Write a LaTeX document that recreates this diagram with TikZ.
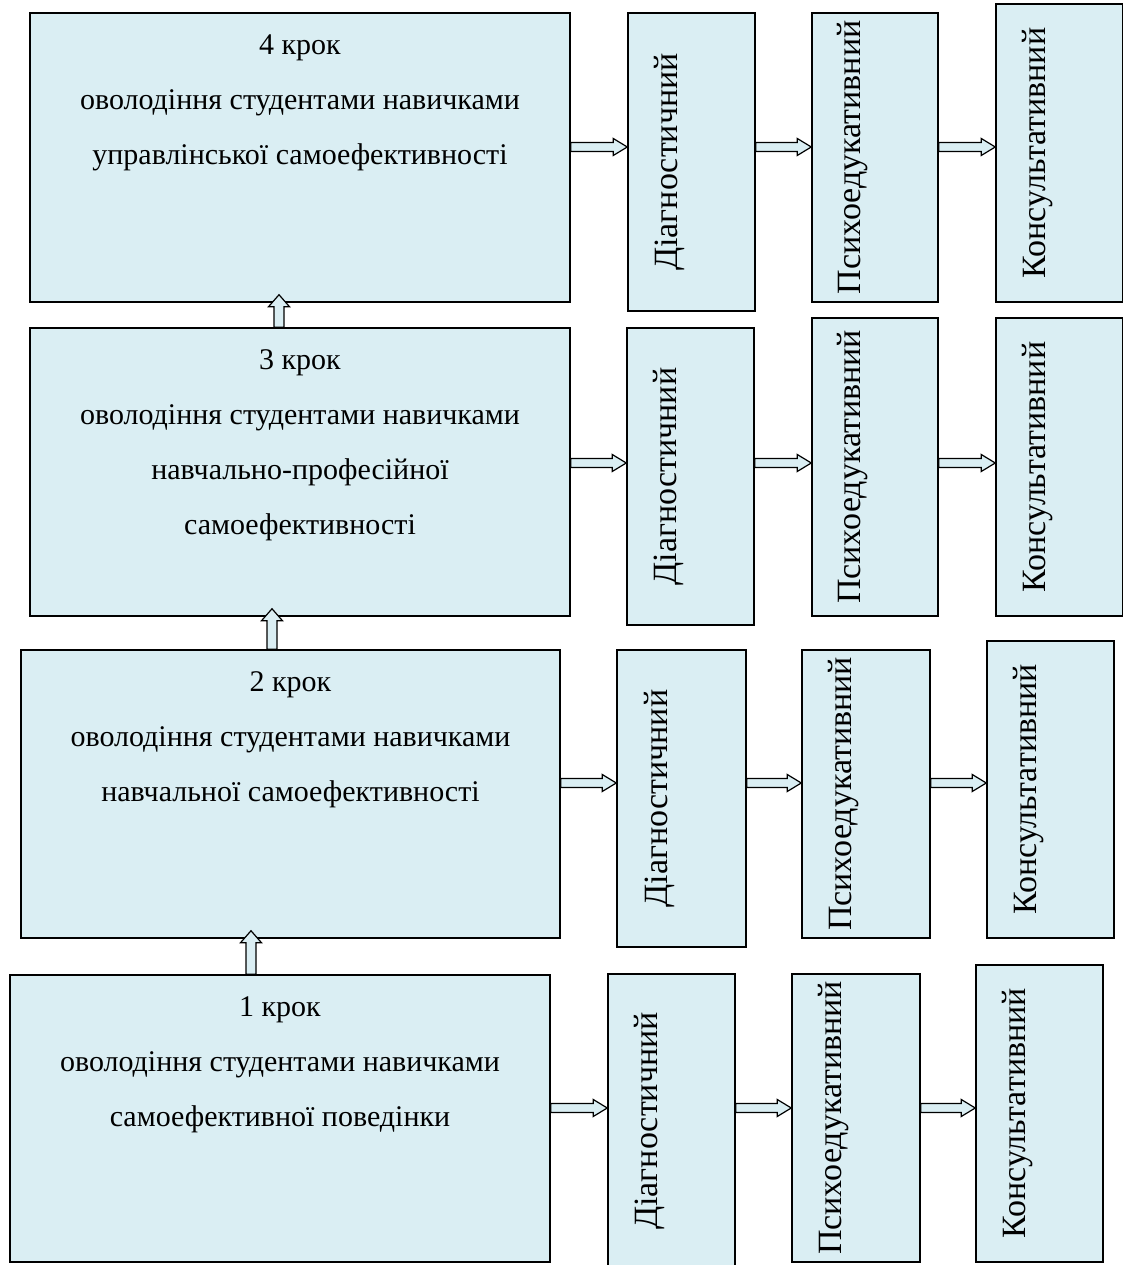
\documentclass[tikz,border=0pt]{standalone}
\usepackage{fontspec}
\setmainfont{Liberation Serif}
\usepackage{graphicx}
\usetikzlibrary{positioning,calc}
\definecolor{boxfill}{HTML}{DAEEF3}
\tikzset{
  stepbox/.style={draw=black,line width=1.5pt,fill=boxfill,inner sep=0pt},
  steptext/.style={align=center,inner sep=0pt,font=\fontsize{30}{55}\selectfont},
  formbox/.style={stepbox,minimum width=127pt,font=\fontsize{34}{40}\selectfont},
  blockarrow/.style={draw=black,line width=1.2pt,fill=boxfill,line join=miter}
}
\newcommand{\vlabel}[1]{\rotatebox{90}{#1}\rule{44pt}{0pt}}
\newcommand{\rarrow}[3]{\draw[blockarrow] let \p1=(#1.east |- #3), \p2=(#2.west |- #3) in
  (\x1,\y1+4.5pt) -- (\x2-14pt,\y1+4.5pt) -- (\x2-14pt,\y1+8.5pt) -- (\x2,\y1)
  -- (\x2-14pt,\y1-8.5pt) -- (\x2-14pt,\y1-4.5pt) -- (\x1,\y1-4.5pt) -- cycle;}
\newcommand{\uarrow}[3]{\draw[blockarrow] let \p1=(#1.north), \p2=(#2.south) in
  (#3pt-5pt,\y1) -- (#3pt-5pt,\y2-4pt) -- (#3pt-10.5pt,\y2-4pt) -- (#3pt,\y2+8pt)
  -- (#3pt+10.5pt,\y2-4pt) -- (#3pt+5pt,\y2-4pt) -- (#3pt+5pt,\y1) -- cycle;}
\begin{document}
\begin{tikzpicture}[x=1pt,y=1pt,line join=miter]
\useasboundingbox (0,0) rectangle (1123,1265);
\clip (0,0) rectangle (1123,1265);
% 4 krok
\node[stepbox,minimum width=540pt,minimum height=289pt] (b4) at (300,1107.5) {};
\node[steptext,below=22pt of b4.north] (t4) {4 крок\\оволодіння студентами навичками\\управлінської самоефективності};
\node[formbox,minimum height=298pt] (d4) at (691.5,1103) {\vlabel{Діагностичний}};
\node[formbox,minimum width=126pt,minimum height=289pt] (p4) at (875,1107.5) {\vlabel{Психоедукативний}};
\node[formbox,minimum height=298pt] (k4) at (1059.5,1112) {\vlabel{Консультативний}};
\coordinate (r4) at (0,1118);
% 3 krok
\node[stepbox,minimum width=540pt,minimum height=288pt] (b3) at (300,793) {};
\node[steptext,below=22pt of b3.north] (t3) {3 крок\\оволодіння студентами навичками\\навчально-професійної\\самоефективності};
\node[formbox,minimum height=297pt] (d3) at (690.5,788.5) {\vlabel{Діагностичний}};
\node[formbox,minimum width=126pt,minimum height=298pt] (p3) at (875,798) {\vlabel{Психоедукативний}};
\node[formbox,minimum height=298pt] (k3) at (1059.5,798) {\vlabel{Консультативний}};
\coordinate (r3) at (0,802);
% 2 krok
\node[stepbox,minimum width=539pt,minimum height=288pt] (b2) at (290.5,471) {};
\node[steptext,below=22pt of b2.north] (t2) {2 крок\\оволодіння студентами навичками\\навчальної самоефективності};
\node[formbox,minimum width=129pt,minimum height=297pt] (d2) at (681.5,466.5) {\vlabel{Діагностичний}};
\node[formbox,minimum width=128pt,minimum height=288pt] (p2) at (866,471) {\vlabel{Психоедукативний}};
\node[formbox,minimum height=297pt] (k2) at (1050.5,475.5) {\vlabel{Консультативний}};
\coordinate (r2) at (0,482);
% 1 krok
\node[stepbox,minimum width=540pt,minimum height=287pt] (b1) at (280,146.5) {};
\node[steptext,below=22pt of b1.north] (t1) {1 крок\\оволодіння студентами навичками\\самоефективної поведінки};
\node[formbox,minimum height=294pt] (d1) at (671.5,144) {\vlabel{Діагностичний}};
\node[formbox,minimum width=128pt,minimum height=288pt] (p1) at (856,147) {\vlabel{Психоедукативний}};
\node[formbox,minimum height=297pt] (k1) at (1039.5,151.5) {\vlabel{Консультативний}};
\coordinate (r1) at (0,157);
% arrows
\rarrow{b4}{d4}{r4} \rarrow{d4}{p4}{r4} \rarrow{p4}{k4}{r4}
\rarrow{b3}{d3}{r3} \rarrow{d3}{p3}{r3} \rarrow{p3}{k3}{r3}
\rarrow{b2}{d2}{r2} \rarrow{d2}{p2}{r2} \rarrow{p2}{k2}{r2}
\rarrow{b1}{d1}{r1} \rarrow{d1}{p1}{r1} \rarrow{p1}{k1}{r1}
\uarrow{b1}{b2}{251}
\uarrow{b2}{b3}{272}
\uarrow{b3}{b4}{279}
\end{tikzpicture}
\end{document}
